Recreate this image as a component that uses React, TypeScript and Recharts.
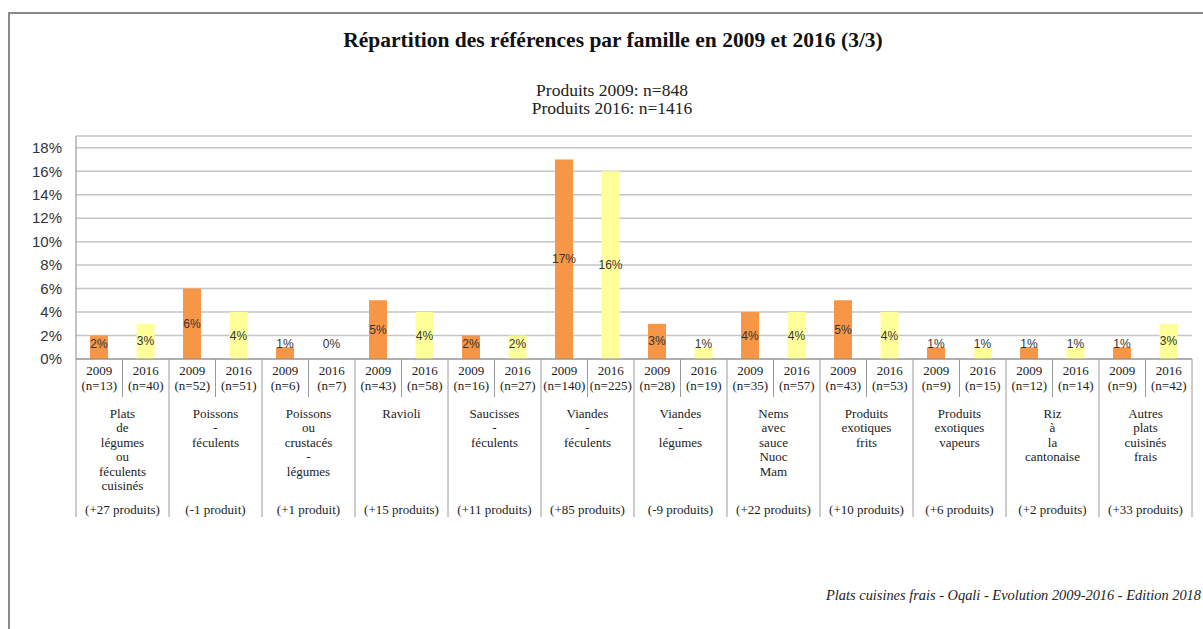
import { BarChart, Bar, XAxis, YAxis, CartesianGrid, Cell, LabelList } from "recharts";

const groupNames = [
  ["Plats", "de", "légumes", "ou", "féculents", "cuisinés"],
  ["Poissons", "-", "féculents"],
  ["Poissons", "ou", "crustacés", "-", "légumes"],
  ["Ravioli"],
  ["Saucisses", "-", "féculents"],
  ["Viandes", "-", "féculents"],
  ["Viandes", "-", "légumes"],
  ["Nems", "avec", "sauce", "Nuoc", "Mam"],
  ["Produits", "exotiques", "frits"],
  ["Produits", "exotiques", "vapeurs"],
  ["Riz", "à", "la", "cantonaise"],
  ["Autres", "plats", "cuisinés", "frais"],
];
const groupChanges = [
  "(+27 produits)", "(-1 produit)", "(+1 produit)", "(+15 produits)", "(+11 produits)", "(+85 produits)",
  "(-9 produits)", "(+22 produits)", "(+10 produits)", "(+6 produits)", "(+2 produits)", "(+33 produits)",
];
const years = ["2009", "2016"];
const n2009 = [13, 52, 6, 43, 16, 140, 28, 35, 43, 9, 12, 9];
const n2016 = [40, 51, 7, 58, 27, 225, 19, 57, 53, 15, 14, 42];
const pct2009 = [2, 6, 1, 5, 2, 17, 3, 4, 5, 1, 1, 1];
const pct2016 = [3, 4, 0, 4, 2, 16, 1, 4, 4, 1, 1, 3];
const yTicks = [0, 2, 4, 6, 8, 10, 12, 14, 16, 18];

const COLOR_2009 = "#F79646";
const COLOR_2016 = "#FFFF99";
const SERIF = "'Liberation Serif', serif";
const SANS = "'Liberation Sans', Arial, sans-serif";

const PLOT_LEFT = 76;
const PLOT_RIGHT = 1192;
const SLOT = (PLOT_RIGHT - PLOT_LEFT) / 24;

const rows = groupNames.flatMap((_, g) => [
  { key: `${g}-2009`, group: g, year: years[0], n: n2009[g], v: pct2009[g], fill: COLOR_2009 },
  { key: `${g}-2016`, group: g, year: years[1], n: n2016[g], v: pct2016[g], fill: COLOR_2016 },
]);

function CategoryTick(props: any) {
  const { x, y, payload } = props;
  const row = rows[payload.index];
  if (!row) return null;
  const first = payload.index % 2 === 0;
  const last = payload.index === rows.length - 1;
  const gx = x + SLOT / 2;
  return (
    <g>
      <line x1={x - SLOT / 2} x2={x - SLOT / 2} y1={y} y2={y + (first ? 158 : 38)} stroke="#9a9a9a" />
      {last && <line x1={x + SLOT / 2} x2={x + SLOT / 2} y1={y} y2={y + 158} stroke="#9a9a9a" />}
      <text x={x} y={y + 16} textAnchor="middle" fontFamily={SERIF} fontSize={13} fill="#222">
        {row.year}
      </text>
      <text x={x} y={y + 31} textAnchor="middle" fontFamily={SERIF} fontSize={13} fill="#222">
        (n={row.n})
      </text>
      {first &&
        groupNames[row.group].map((line, i) => (
          <text key={i} x={gx} y={y + 59 + i * 14.4} textAnchor="middle" fontFamily={SERIF} fontSize={13} fill="#222">
            {line}
          </text>
        ))}
      {first && (
        <text x={gx} y={y + 155} textAnchor="middle" fontFamily={SERIF} fontSize={13} fill="#222">
          {groupChanges[row.group]}
        </text>
      )}
    </g>
  );
}

function ValueLabel(props: any) {
  const { x, y, width, height, value } = props;
  const base = y + height;
  const cy = Math.min(y + height / 2, base - 15);
  return (
    <text x={x + width / 2} y={cy} textAnchor="middle" dominantBaseline="central" fontFamily={SANS} fontSize={12} fill="#333">
      {value}%
    </text>
  );
}

export default function App() {
  return (
    <div style={{ position: "absolute", left: 0, top: 0, width: 1203, height: 629, overflow: "hidden", background: "#fff" }}>
      <div style={{ position: "absolute", left: 8, top: 12, width: 1200, height: 630, borderTop: "2px solid #8a8a8a", borderLeft: "2px solid #8a8a8a" }} />
      <div style={{ position: "absolute", left: 0, width: 1226, top: 27, lineHeight: "26px", textAlign: "center", fontFamily: SERIF, fontWeight: "bold", fontSize: 21.5, color: "#111" }}>
        Répartition des références par famille en 2009 et 2016 (3/3)
      </div>
      <div style={{ position: "absolute", left: 0, width: 1224, top: 81, lineHeight: "18px", textAlign: "center", fontFamily: SERIF, fontSize: 17.5, color: "#222" }}>
        Produits 2009: n=848
        <br />
        Produits 2016: n=1416
      </div>
      <div style={{ position: "absolute", right: 2, top: 586, lineHeight: "18px", fontFamily: SERIF, fontStyle: "italic", fontSize: 14.4, color: "#222" }}>
        Plats cuisines frais - Oqali - Evolution 2009-2016 - Edition 2018
      </div>
      <div style={{ position: "absolute", left: 0, top: 0 }}>
        <BarChart
          width={1203}
          height={629}
          data={rows}
          margin={{ top: 136, right: 1203 - PLOT_RIGHT, left: PLOT_LEFT - 60, bottom: 110 }}
        >
          <CartesianGrid vertical={false} stroke="#c6c6c6" strokeWidth={1.5} />
          <YAxis
            width={60}
            domain={[0, 19]}
            ticks={yTicks}
            tickFormatter={(v) => `${v}%`}
            tickLine={false}
            tickSize={0}
            tickMargin={14}
            axisLine={{ stroke: "#8a8a8a" }}
            tick={{ fontFamily: SANS, fontSize: 15, fill: "#333" }}
          />
          <XAxis
            dataKey="key"
            interval={0}
            height={160}
            tickLine={false}
            tickSize={0}
            tickMargin={0}
            axisLine={{ stroke: "#8a8a8a" }}
            tick={<CategoryTick />}
          />
          <Bar dataKey="v" barSize={18} minPointSize={0.01} isAnimationActive={false}>
            {rows.map((r) => (
              <Cell key={r.key} fill={r.fill} />
            ))}
            <LabelList dataKey="v" content={<ValueLabel />} />
          </Bar>
        </BarChart>
      </div>
    </div>
  );
}
